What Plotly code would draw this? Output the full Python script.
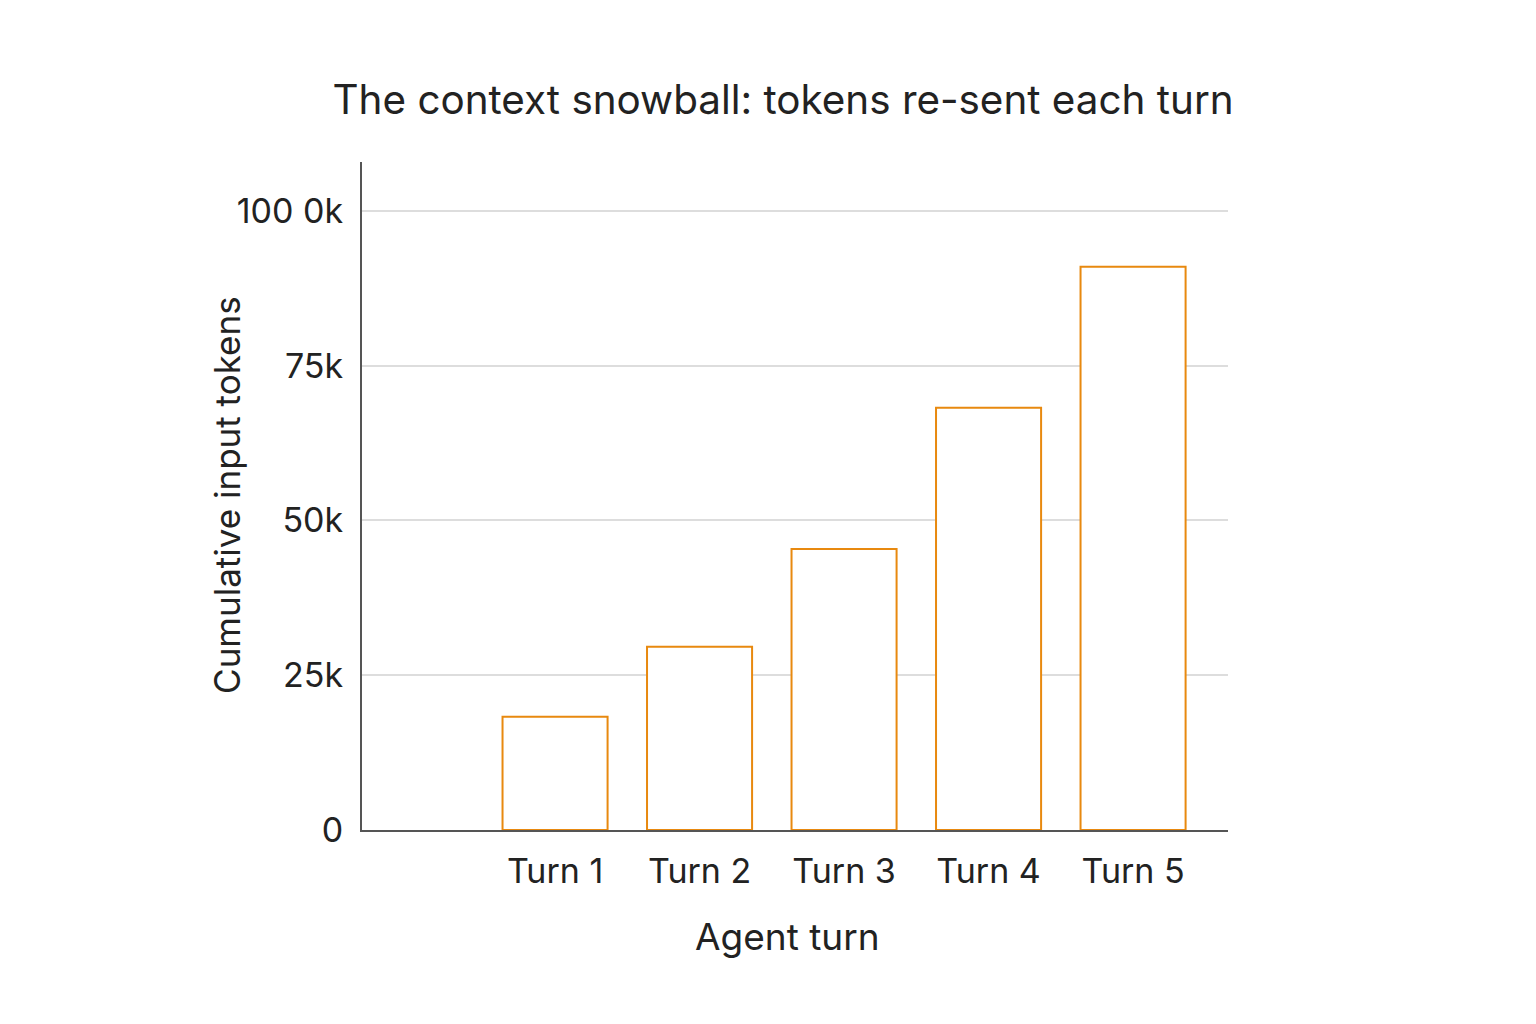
import plotly.graph_objects as go

categories = ["Turn 1", "Turn 2", "Turn 3", "Turn 4", "Turn 5"]
tokens = [18300, 29600, 45400, 68200, 91000]
ytick_vals = [0, 25000, 50000, 75000, 100000]
ytick_text = ["0", "25k", "50k", "75k", "100 0k"]

FONT = "Inter"
TXT = "#222222"
fig = go.Figure()
fig.add_trace(go.Bar(
    x=categories, y=tokens, width=0.727,
    marker=dict(color="white", line=dict(color="#E8890F", width=2)),
    hoverinfo="skip",
))

fig.update_layout(
    width=1536, height=1024,
    paper_bgcolor="white", plot_bgcolor="white",
    margin=dict(l=354, r=316, t=154, b=202),
    showlegend=False,
    font=dict(family=FONT, color=TXT),
    title=dict(text="The context snowball: tokens re-sent each turn",
               x=0.5046, xanchor="center", y=0.910, yanchor="middle",
               font=dict(family=FONT, size=40.4, color=TXT)),
    annotations=[
        dict(text="Cumulative input tokens", textangle=-90,
             xref="paper", yref="paper", x=-0.156, y=0.5015,
             xanchor="center", yanchor="middle", showarrow=False,
             font=dict(family=FONT, size=35, color=TXT)),
        dict(text="Agent turn",
             xref="paper", yref="paper", x=0.4908, y=-0.1587,
             xanchor="center", yanchor="middle", showarrow=False,
             font=dict(family=FONT, size=37, color=TXT)),
    ],
)
fig.update_xaxes(
    type="category", range=[-1.336, 4.657],
    showline=True, linecolor="#555555", linewidth=2,
    showgrid=False, ticks="", tickfont=dict(size=34, color=TXT),
    ticklabelstandoff=10,
)
fig.update_yaxes(
    range=[0, 107900], tickvals=ytick_vals, ticktext=ytick_text,
    showline=True, linecolor="#555555", linewidth=2,
    showgrid=True, gridcolor="#DDDDDD", gridwidth=1.5, zeroline=False,
    ticks="", tickfont=dict(size=34, color=TXT), ticklabelstandoff=10,
)
fig.write_html("out.html")
